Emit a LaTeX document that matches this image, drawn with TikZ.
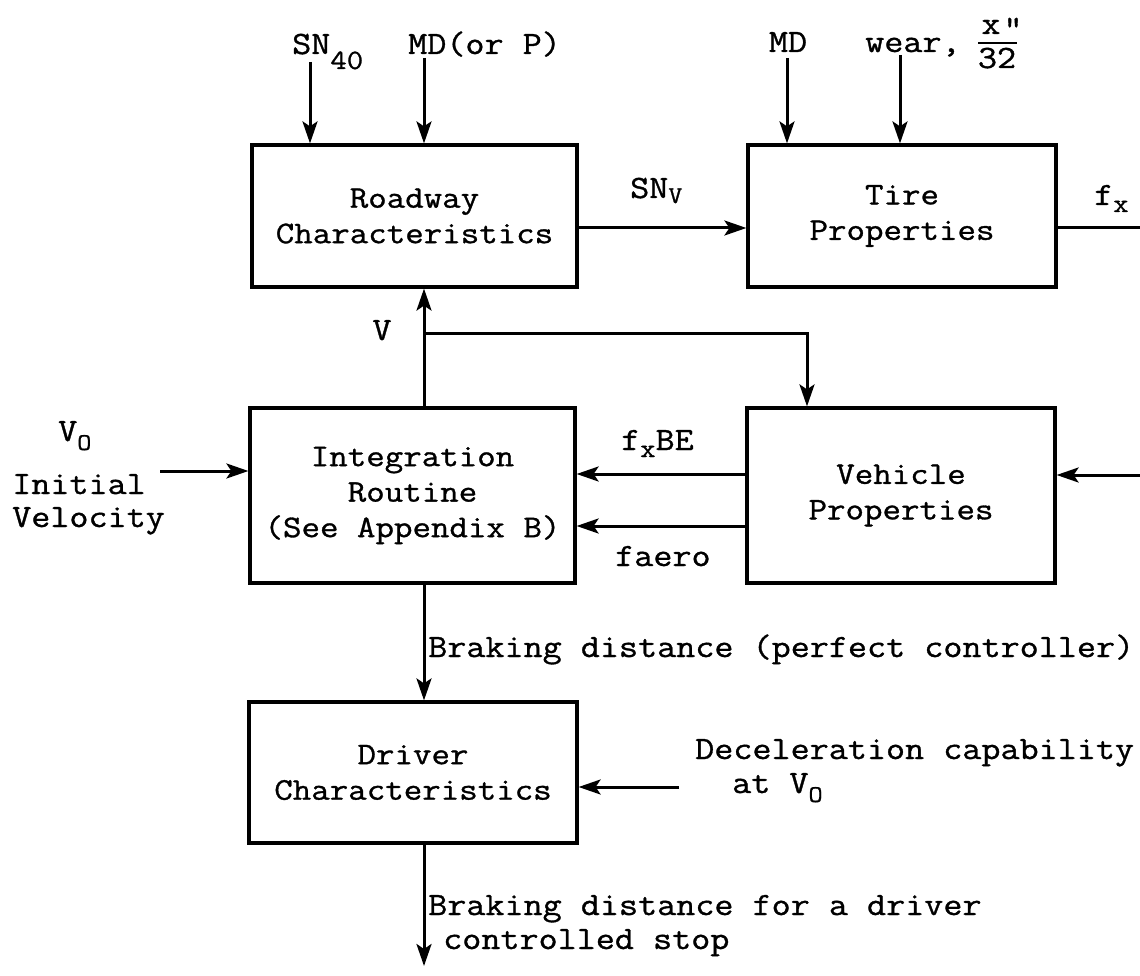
\documentclass[tikz,border=0pt]{standalone}
\usepackage{fontspec}
\setmainfont[FakeStretch=1.14,FakeBold=1]{Latin Modern Mono}
\usetikzlibrary{arrows.meta}
\newcommand{\lowsub}[3]{\raisebox{-#1}{\fontsize{#2}{#2}\selectfont #3}}
\begin{document}
\begin{tikzpicture}[x=1pt,y=-1pt,
  box/.style={draw, line width=3.2pt, align=center, inner sep=0pt, font=\fontsize{31.5}{35.5}\selectfont},
  conn/.style={line width=3pt, -{Stealth[length=22pt,width=15pt,inset=5pt]}},
  plain/.style={line width=3pt},
  lbl/.style={inner sep=0pt, font=\fontsize{32.5}{34}\selectfont},
]
\useasboundingbox (0,0) rectangle (1140,976);
% boxes
\node[box, minimum width=325pt, minimum height=142pt] (road) at (414.5,216) {Roadway\\Characteristics};
\node[box, minimum width=308pt, minimum height=142pt] (tire) at (902,216) {Tire\\Properties};
\node[box, minimum width=325pt, minimum height=175pt] (integ) at (412.5,495.5) {Integration\\Routine\\(See Appendix B)};
\node[box, minimum width=308pt, minimum height=175pt] (veh) at (901,495.5) {Vehicle\\Properties};
\node[box, minimum width=328pt, minimum height=141pt] (driver) at (413,772.5) {Driver\\Characteristics};
% free ends
\coordinate (sn40s) at (310,62);
\coordinate (mdps) at (424,58);
\coordinate (mdts) at (787,58);
\coordinate (wears) at (900,55);
\coordinate (fxe) at (1140,228);
\coordinate (vin) at (1140,475);
\coordinate (v0s) at (160,471);
\coordinate (vx) at (424,333);
\coordinate (vb) at (807,333);
\coordinate (dec) at (679,787);
\coordinate (outend) at (424,966);
% top inputs
\draw[conn] (sn40s) -- (sn40s |- road.north);
\draw[conn] (mdps) -- (mdps |- road.north);
\draw[conn] (mdts) -- (mdts |- tire.north);
\draw[conn] (wears) -- (wears |- tire.north);
% SNv and fx
\draw[conn] ([yshift=-12pt]road.east) -- ([yshift=-12pt]tire.west);
\draw[plain] ([yshift=-12pt]tire.east) -- (fxe);
% V loop
\draw[conn] (vx |- integ.north) -- (vx |- road.south);
\draw[conn] (vx) -- (vb) -- (vb |- veh.north);
% vehicle to integration
\draw[conn] ([yshift=21.5pt]veh.west) -- ([yshift=21.5pt]integ.east);
\draw[conn] ([yshift=-30.5pt]veh.west) -- ([yshift=-30.5pt]integ.east);
\draw[conn] (vin) -- (vin -| veh.east);
\draw[conn] (v0s) -- (v0s -| integ.west);
% down
\draw[conn] (vx |- integ.south) -- (vx |- driver.north);
\draw[conn] (dec) -- (dec -| driver.east);
\draw[conn] (vx |- driver.south) -- (outend);
% labels
\node[lbl, anchor=base west] (lsn40) at (292,54) {SN\lowsub{15pt}{28}{40}};
\node[lbl, anchor=base west] (lmdp) at (408,54) {MD(or P)};
\node[lbl, anchor=base] (lmdt) at (788,52) {MD};
\node[lbl, anchor=base west] (lwear) at (865,52) {wear,};
\node[lbl, anchor=base] (lnum) at (991,34) {x};
\node[lbl, anchor=base] (linch) at (1013,38) {"};
\node[lbl, anchor=base] (lden) at (997,68) {32};
\draw[line width=2.2pt] (978,43) -- (1017,43);
\node[lbl, anchor=base west] (lsnv) at (630,198) {SN\lowsub{5pt}{24}{V}};
\node[lbl, anchor=base west] (lfx) at (1094,205) {f\lowsub{7pt}{26}{x}};
\node[lbl, anchor=base] (lv) at (382,340) {V};
\node[lbl, anchor=base west] (lv0) at (58,441) {V\lowsub{9pt}{24}{O}};
\node[lbl, anchor=base west] (linit) at (12,494) {Initial};
\node[lbl, anchor=base west] (lvel) at (12,527) {Velocity};
\node[lbl, anchor=base west] (lfxbe) at (621,450) {f\lowsub{7pt}{26}{x}BE};
\node[lbl, anchor=base west] (lfaero) at (615,566) {faero};
\node[lbl, anchor=base west] (lbd1) at (428,657) {Braking distance (perfect controller)};
\node[lbl, anchor=base west] (ldec1) at (695,759) {Deceleration capability};
\node[lbl, anchor=base west] (ldec2) at (732,793) {at V\lowsub{9pt}{24}{O}};
\node[lbl, anchor=base west] (lbd2) at (428,915) {Braking distance for a driver};
\node[lbl, anchor=base west] (lbd3) at (443,949) {controlled stop};
\end{tikzpicture}
\end{document}
